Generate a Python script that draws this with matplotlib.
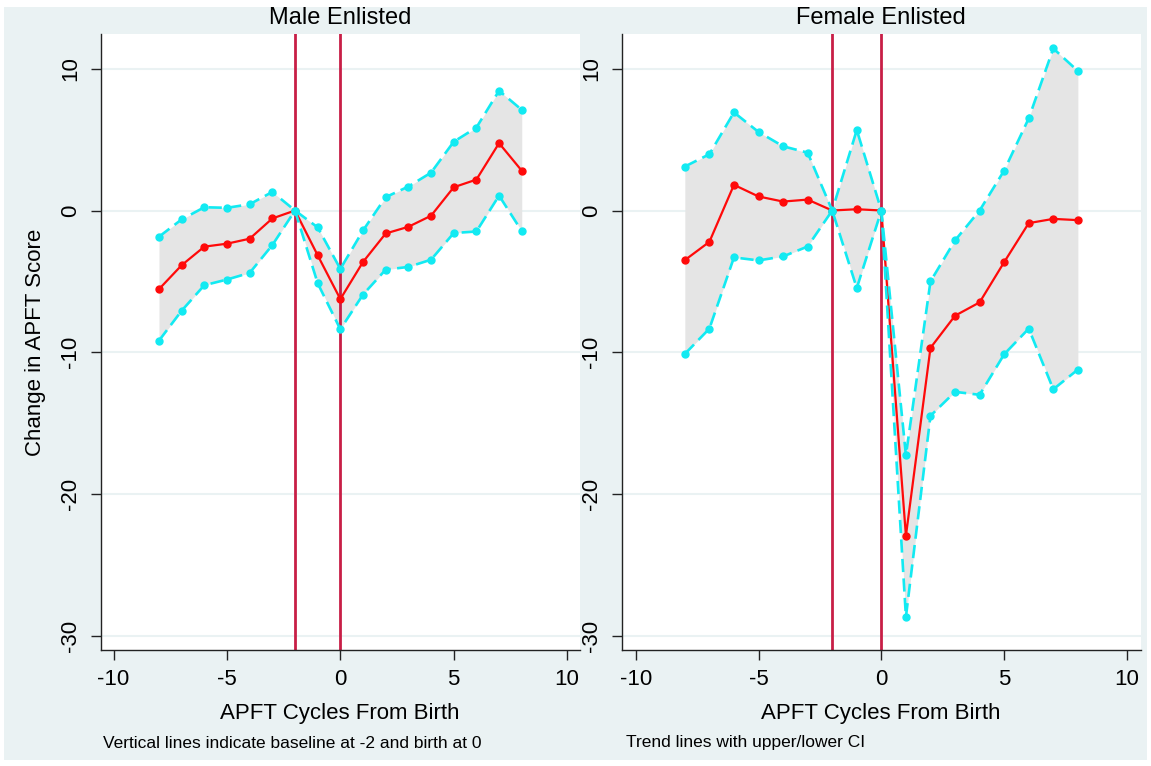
import matplotlib
matplotlib.use("Agg")
import matplotlib.pyplot as plt
from matplotlib.patches import Rectangle

plt.rcParams['font.family'] = ['Liberation Sans', 'DejaVu Sans']
plt.rcParams['axes.unicode_minus'] = False

# ---- data ----
cycles = [-8, -7, -6, -5, -4, -3, -2, -1, 0, 1, 2, 3, 4, 5, 6, 7, 8]

male_mean = [-5.55, -3.86, -2.55, -2.34, -1.99, -0.56, 0, -3.16, -6.25,
             -3.63, -1.62, -1.15, -0.37, 1.64, 2.18, 4.75, 2.81]
male_upper = [-1.85, -0.63, 0.23, 0.19, 0.44, 1.31, 0, -1.19, -4.12,
              -1.41, 0.94, 1.69, 2.67, 4.85, 5.85, 8.45, 7.10]
male_lower = [-9.18, -7.07, -5.27, -4.87, -4.40, -2.44, 0, -5.13, -8.38,
              -5.93, -4.17, -3.98, -3.47, -1.59, -1.48, 1.05, -1.45]

female_mean = [-3.50, -2.21, 1.81, 0.99, 0.63, 0.77, 0, 0.09, 0,
               -22.95, -9.69, -7.42, -6.48, -3.64, -0.89, -0.59, -0.68]
female_upper = [3.10, 3.97, 6.92, 5.54, 4.53, 4.08, 0, 5.68, 0,
                -17.27, -5.00, -2.11, 0.0, 2.82, 6.50, 11.43, 9.84]
female_lower = [-10.12, -8.33, -3.31, -3.52, -3.24, -2.54, 0, -5.47, 0,
                -28.66, -14.48, -12.79, -13.00, -10.14, -8.33, -12.61, -11.22]

panel_titles = ["Male Enlisted", "Female Enlisted"]
notes = ["Vertical lines indicate baseline at -2 and birth at 0",
         "Trend lines with upper/lower CI"]
xticks = [-10, -5, 0, 5, 10]
yticks = [10, 0, -10, -20, -30]
vlines = [-2, 0]

# ---- styling ----
W, H = 1151, 766
BG = '#EAF2F3'
FILL = '#E5E5E5'
CYAN = '#12EAF2'
RED = '#FF0A0A'
VRED = '#C81E46'

fig = plt.figure(figsize=(W / 100, H / 100), dpi=100)
fig.patch.set_facecolor('white')
fig.patches.append(Rectangle((4 / W, 1 - 760 / H), (1147 - 4) / W, (760 - 7) / H,
                             transform=fig.transFigure, facecolor=BG,
                             edgecolor='none', zorder=-10))

def px_axes(x0, y0, x1, y1):
    return fig.add_axes([x0 / W, 1 - y1 / H, (x1 - x0) / W, (y1 - y0) / H])

axL = px_axes(100.7, 34, 580, 650)
axR = px_axes(621.7, 34, 1141, 650)

data = [(male_mean, male_upper, male_lower), (female_mean, female_upper, female_lower)]

for ax, (mean, up, lo) in zip([axL, axR], data):
    ax.set_facecolor('white')
    ax.set_xlim(-10.57, 10.57)
    ax.set_ylim(-31.0, 12.45)
    for yv in yticks:
        ax.axhline(yv, color=BG, lw=1.5, zorder=0)
    ax.fill_between(cycles, lo, up, color=FILL, lw=0, zorder=1)
    for xv in vlines:
        ax.axvline(xv, color=VRED, lw=2.0, zorder=2)
    ax.plot(cycles, mean, color=RED, lw=1.6, marker='o', ms=5,
            mec=RED, mfc=RED, zorder=3)
    for series in (up, lo):
        ax.plot(cycles, series, color=CYAN, lw=1.9, dashes=(5, 2.4),
                marker='o', ms=5, mec=CYAN, mfc=CYAN, zorder=4)
    ax.set_xticks(xticks)
    ax.set_xticklabels([str(t) for t in xticks])
    ax.set_yticks(yticks)
    ax.set_yticklabels([str(t) for t in yticks])
    for s in ['top', 'right']:
        ax.spines[s].set_visible(False)
    for s in ['left', 'bottom']:
        ax.spines[s].set_color('#222222')
        ax.spines[s].set_linewidth(1.0)
    ax.tick_params(axis='both', direction='out', length=7, width=1.0,
                   color='#222222', labelsize=16, pad=7)
    for lab in ax.get_yticklabels():
        lab.set_rotation(90)
        lab.set_va('center')

def ftext(x, y, s, **kw):
    fig.text(x / W, 1 - y / H, s, **kw)

ftext(340, 18, panel_titles[0], fontsize=17, ha='center', va='center')
ftext(881, 18, panel_titles[1], fontsize=17, ha='center', va='center')
ftext(340, 714, "APFT Cycles From Birth", fontsize=16, ha='center', va='center')
ftext(881, 714, "APFT Cycles From Birth", fontsize=16, ha='center', va='center')
ftext(36, 342, "Change in APFT Score", fontsize=16, ha='center', va='center', rotation=90)
ftext(103, 743, notes[0], fontsize=12.5, ha='left', va='center')
ftext(626, 743, notes[1], fontsize=12.5, ha='left', va='center')

fig.savefig('out.png', dpi=100, facecolor=fig.get_facecolor())
